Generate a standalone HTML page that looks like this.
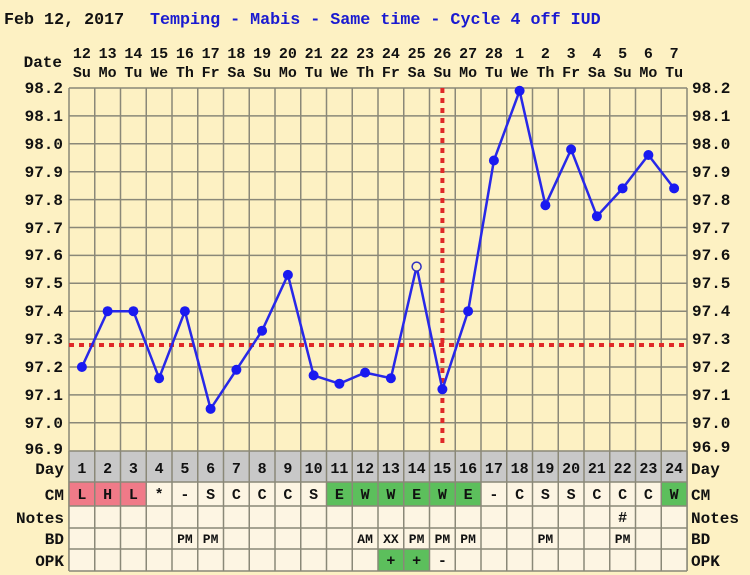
<!DOCTYPE html>
<html><head><meta charset="utf-8"><style>
html,body{margin:0;padding:0;background:#fdf1c3}
svg{display:block}
text{font-family:"Liberation Mono","DejaVu Sans Mono",monospace;font-weight:bold;fill:#111}
</style></head><body>
<svg width="750" height="575" viewBox="0 0 750 575" xmlns="http://www.w3.org/2000/svg">
<rect width="750" height="575" fill="#fdf1c3"/>
<text x="4" y="24" font-size="16.7">Feb 12, 2017</text>
<text x="150" y="24" font-size="16.7" style="fill:#1a1ad0">Temping - Mabis - Same time - Cycle 4 off IUD</text>

<text x="62" y="67" font-size="16" text-anchor="end">Date</text>
<g font-size="15" text-anchor="middle">
<text x="81.9" y="58">12</text><text x="107.6" y="58">13</text><text x="133.4" y="58">14</text><text x="159.1" y="58">15</text><text x="184.9" y="58">16</text><text x="210.6" y="58">17</text><text x="236.4" y="58">18</text><text x="262.1" y="58">19</text><text x="287.9" y="58">20</text><text x="313.6" y="58">21</text><text x="339.4" y="58">22</text><text x="365.1" y="58">23</text><text x="390.9" y="58">24</text><text x="416.6" y="58">25</text><text x="442.4" y="58">26</text><text x="468.1" y="58">27</text><text x="493.9" y="58">28</text><text x="519.6" y="58">1</text><text x="545.4" y="58">2</text><text x="571.1" y="58">3</text><text x="596.9" y="58">4</text><text x="622.6" y="58">5</text><text x="648.4" y="58">6</text><text x="674.1" y="58">7</text>
<text x="81.9" y="77">Su</text><text x="107.6" y="77">Mo</text><text x="133.4" y="77">Tu</text><text x="159.1" y="77">We</text><text x="184.9" y="77">Th</text><text x="210.6" y="77">Fr</text><text x="236.4" y="77">Sa</text><text x="262.1" y="77">Su</text><text x="287.9" y="77">Mo</text><text x="313.6" y="77">Tu</text><text x="339.4" y="77">We</text><text x="365.1" y="77">Th</text><text x="390.9" y="77">Fr</text><text x="416.6" y="77">Sa</text><text x="442.4" y="77">Su</text><text x="468.1" y="77">Mo</text><text x="493.9" y="77">Tu</text><text x="519.6" y="77">We</text><text x="545.4" y="77">Th</text><text x="571.1" y="77">Fr</text><text x="596.9" y="77">Sa</text><text x="622.6" y="77">Su</text><text x="648.4" y="77">Mo</text><text x="674.1" y="77">Tu</text>
</g>

<g font-size="16">
<g text-anchor="end">
<text x="63" y="93">98.2</text><text x="63" y="121">98.1</text><text x="63" y="149">98.0</text><text x="63" y="177">97.9</text><text x="63" y="205">97.8</text><text x="63" y="233">97.7</text><text x="63" y="260">97.6</text><text x="63" y="288">97.5</text><text x="63" y="316">97.4</text><text x="63" y="344">97.3</text><text x="63" y="372">97.2</text><text x="63" y="400">97.1</text><text x="63" y="428">97.0</text><text x="63" y="454">96.9</text>
</g>
<text x="692" y="93">98.2</text><text x="692" y="121">98.1</text><text x="692" y="149">98.0</text><text x="692" y="177">97.9</text><text x="692" y="205">97.8</text><text x="692" y="233">97.7</text><text x="692" y="260">97.6</text><text x="692" y="288">97.5</text><text x="692" y="316">97.4</text><text x="692" y="344">97.3</text><text x="692" y="372">97.2</text><text x="692" y="400">97.1</text><text x="692" y="428">97.0</text><text x="692" y="452">96.9</text>
</g>

<g stroke="#8a8878" stroke-width="1.5">
<line x1="69" y1="88" x2="687" y2="88"/><line x1="69" y1="115.9" x2="687" y2="115.9"/><line x1="69" y1="143.8" x2="687" y2="143.8"/><line x1="69" y1="171.7" x2="687" y2="171.7"/><line x1="69" y1="199.6" x2="687" y2="199.6"/><line x1="69" y1="227.5" x2="687" y2="227.5"/><line x1="69" y1="255.4" x2="687" y2="255.4"/><line x1="69" y1="283.3" x2="687" y2="283.3"/><line x1="69" y1="311.2" x2="687" y2="311.2"/><line x1="69" y1="339.1" x2="687" y2="339.1"/><line x1="69" y1="367" x2="687" y2="367"/><line x1="69" y1="394.9" x2="687" y2="394.9"/><line x1="69" y1="422.8" x2="687" y2="422.8"/>
<line x1="69" y1="88" x2="69" y2="571"/><line x1="94.75" y1="88" x2="94.75" y2="571"/><line x1="120.5" y1="88" x2="120.5" y2="571"/><line x1="146.25" y1="88" x2="146.25" y2="571"/><line x1="172" y1="88" x2="172" y2="571"/><line x1="197.75" y1="88" x2="197.75" y2="571"/><line x1="223.5" y1="88" x2="223.5" y2="571"/><line x1="249.25" y1="88" x2="249.25" y2="571"/><line x1="275" y1="88" x2="275" y2="571"/><line x1="300.75" y1="88" x2="300.75" y2="571"/><line x1="326.5" y1="88" x2="326.5" y2="571"/><line x1="352.25" y1="88" x2="352.25" y2="571"/><line x1="378" y1="88" x2="378" y2="571"/><line x1="403.75" y1="88" x2="403.75" y2="571"/><line x1="429.5" y1="88" x2="429.5" y2="571"/><line x1="455.25" y1="88" x2="455.25" y2="571"/><line x1="481" y1="88" x2="481" y2="571"/><line x1="506.75" y1="88" x2="506.75" y2="571"/><line x1="532.5" y1="88" x2="532.5" y2="571"/><line x1="558.25" y1="88" x2="558.25" y2="571"/><line x1="584" y1="88" x2="584" y2="571"/><line x1="609.75" y1="88" x2="609.75" y2="571"/><line x1="635.5" y1="88" x2="635.5" y2="571"/><line x1="661.25" y1="88" x2="661.25" y2="571"/><line x1="687" y1="88" x2="687" y2="571"/>
</g>

<rect x="69" y="451" width="618" height="31" fill="#c8c8c8"/>
<rect x="69" y="482" width="618" height="89" fill="#fdf5e3"/>
<rect x="69" y="482" width="77.25" height="24" fill="#f07a88"/>
<rect x="326.5" y="482" width="154.5" height="24" fill="#5cbf5c"/>
<rect x="661.25" y="482" width="25.75" height="24" fill="#5cbf5c"/>
<rect x="378" y="549" width="51.5" height="22" fill="#5cbf5c"/>
<g stroke="#8a8878" stroke-width="1.5">
<line x1="69" y1="451" x2="687" y2="451"/><line x1="69" y1="482" x2="687" y2="482"/><line x1="69" y1="506" x2="687" y2="506"/><line x1="69" y1="528" x2="687" y2="528"/><line x1="69" y1="549" x2="687" y2="549"/><line x1="69" y1="571" x2="687" y2="571"/>
<line x1="69" y1="451" x2="69" y2="571"/><line x1="94.75" y1="451" x2="94.75" y2="571"/><line x1="120.5" y1="451" x2="120.5" y2="571"/><line x1="146.25" y1="451" x2="146.25" y2="571"/><line x1="172" y1="451" x2="172" y2="571"/><line x1="197.75" y1="451" x2="197.75" y2="571"/><line x1="223.5" y1="451" x2="223.5" y2="571"/><line x1="249.25" y1="451" x2="249.25" y2="571"/><line x1="275" y1="451" x2="275" y2="571"/><line x1="300.75" y1="451" x2="300.75" y2="571"/><line x1="326.5" y1="451" x2="326.5" y2="571"/><line x1="352.25" y1="451" x2="352.25" y2="571"/><line x1="378" y1="451" x2="378" y2="571"/><line x1="403.75" y1="451" x2="403.75" y2="571"/><line x1="429.5" y1="451" x2="429.5" y2="571"/><line x1="455.25" y1="451" x2="455.25" y2="571"/><line x1="481" y1="451" x2="481" y2="571"/><line x1="506.75" y1="451" x2="506.75" y2="571"/><line x1="532.5" y1="451" x2="532.5" y2="571"/><line x1="558.25" y1="451" x2="558.25" y2="571"/><line x1="584" y1="451" x2="584" y2="571"/><line x1="609.75" y1="451" x2="609.75" y2="571"/><line x1="635.5" y1="451" x2="635.5" y2="571"/><line x1="661.25" y1="451" x2="661.25" y2="571"/><line x1="687" y1="451" x2="687" y2="571"/>
</g>

<g font-size="16">
<g text-anchor="end">
<text x="64" y="474">Day</text><text x="64" y="500">CM</text><text x="64" y="523">Notes</text><text x="64" y="544">BD</text><text x="64" y="566">OPK</text>
</g>
<text x="691" y="474">Day</text><text x="691" y="500">CM</text><text x="691" y="523">Notes</text><text x="691" y="544">BD</text><text x="691" y="566">OPK</text>
</g>

<g font-size="15" text-anchor="middle">
<text x="81.9" y="473">1</text><text x="107.6" y="473">2</text><text x="133.4" y="473">3</text><text x="159.1" y="473">4</text><text x="184.9" y="473">5</text><text x="210.6" y="473">6</text><text x="236.4" y="473">7</text><text x="262.1" y="473">8</text><text x="287.9" y="473">9</text><text x="313.6" y="473">10</text><text x="339.4" y="473">11</text><text x="365.1" y="473">12</text><text x="390.9" y="473">13</text><text x="416.6" y="473">14</text><text x="442.4" y="473">15</text><text x="468.1" y="473">16</text><text x="493.9" y="473">17</text><text x="519.6" y="473">18</text><text x="545.4" y="473">19</text><text x="571.1" y="473">20</text><text x="596.9" y="473">21</text><text x="622.6" y="473">22</text><text x="648.4" y="473">23</text><text x="674.1" y="473">24</text>
<text x="81.9" y="499">L</text><text x="107.6" y="499">H</text><text x="133.4" y="499">L</text><text x="159.1" y="499">*</text><text x="184.9" y="499">-</text><text x="210.6" y="499">S</text><text x="236.4" y="499">C</text><text x="262.1" y="499">C</text><text x="287.9" y="499">C</text><text x="313.6" y="499">S</text><text x="339.4" y="499">E</text><text x="365.1" y="499">W</text><text x="390.9" y="499">W</text><text x="416.6" y="499">E</text><text x="442.4" y="499">W</text><text x="468.1" y="499">E</text><text x="493.9" y="499">-</text><text x="519.6" y="499">C</text><text x="545.4" y="499">S</text><text x="571.1" y="499">S</text><text x="596.9" y="499">C</text><text x="622.6" y="499">C</text><text x="648.4" y="499">C</text><text x="674.1" y="499">W</text>
<text x="622.6" y="522">#</text>
</g>
<g font-size="13" text-anchor="middle">
<text x="184.9" y="543">PM</text><text x="210.6" y="543">PM</text><text x="365.1" y="543">AM</text><text x="390.9" y="543" font-weight="normal">XX</text><text x="416.6" y="543">PM</text><text x="442.4" y="543">PM</text><text x="468.1" y="543">PM</text><text x="545.4" y="543">PM</text><text x="622.6" y="543">PM</text>
</g>
<g font-size="15" text-anchor="middle">
<text x="390.9" y="565">+</text><text x="416.6" y="565">+</text><text x="442.4" y="565">-</text>
</g>

<line x1="69" y1="345" x2="687" y2="345" stroke="#e02828" stroke-width="4" stroke-dasharray="5,5"/>
<line x1="442.4" y1="88" x2="442.4" y2="448" stroke="#e02828" stroke-width="4" stroke-dasharray="5,5"/>

<polyline fill="none" stroke="#2828e8" stroke-width="2.5" points="81.9,367 107.6,311.2 133.4,311.2 159.1,378.2 184.9,311.2 210.6,408.9 236.4,369.8 262.1,330.7 287.9,274.9 313.6,375.4 339.4,383.7 365.1,372.6 390.9,378.2 416.6,266.6 442.4,389.3 468.1,311.2 493.9,160.5 519.6,90.8 545.4,205.2 571.1,149.4 596.9,216.3 622.6,188.4 648.4,155 674.1,188.4"/>
<g fill="#1a1af0">
<circle cx="81.9" cy="367" r="5"/><circle cx="107.6" cy="311.2" r="5"/><circle cx="133.4" cy="311.2" r="5"/><circle cx="159.1" cy="378.2" r="5"/><circle cx="184.9" cy="311.2" r="5"/><circle cx="210.6" cy="408.9" r="5"/><circle cx="236.4" cy="369.8" r="5"/><circle cx="262.1" cy="330.7" r="5"/><circle cx="287.9" cy="274.9" r="5"/><circle cx="313.6" cy="375.4" r="5"/><circle cx="339.4" cy="383.7" r="5"/><circle cx="365.1" cy="372.6" r="5"/><circle cx="390.9" cy="378.2" r="5"/><circle cx="442.4" cy="389.3" r="5"/><circle cx="468.1" cy="311.2" r="5"/><circle cx="493.9" cy="160.5" r="5"/><circle cx="519.6" cy="90.8" r="5"/><circle cx="545.4" cy="205.2" r="5"/><circle cx="571.1" cy="149.4" r="5"/><circle cx="596.9" cy="216.3" r="5"/><circle cx="622.6" cy="188.4" r="5"/><circle cx="648.4" cy="155" r="5"/><circle cx="674.1" cy="188.4" r="5"/>
</g>
<circle cx="416.6" cy="266.6" r="4.5" fill="#fdf1c3" stroke="#3030c0" stroke-width="1.5"/>
</svg>
</body></html>
